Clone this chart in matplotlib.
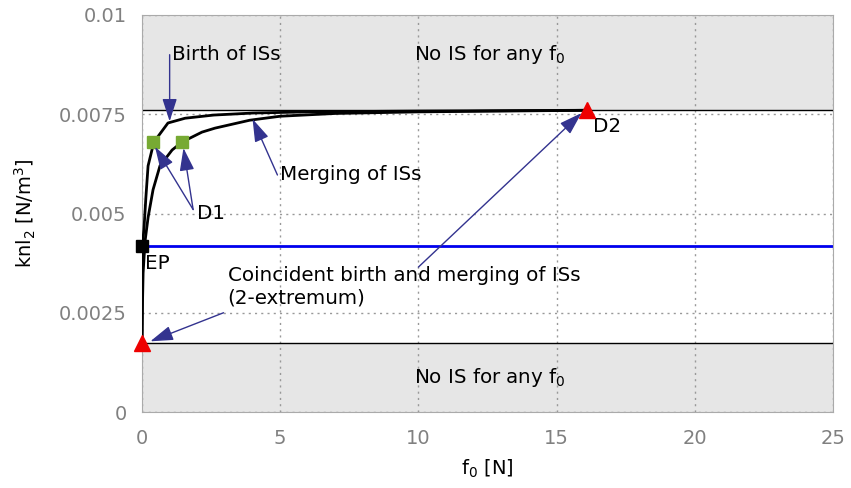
import matplotlib
matplotlib.use("Agg")
import matplotlib.pyplot as plt
from matplotlib.patches import FancyArrowPatch

# ---- data ----
left_x = [0.0, 0.005, 0.01, 0.07, 0.14, 0.22, 0.43, 0.94, 1.56, 2.6, 4.0, 6.0, 10.0, 16.1]
left_y = [0.00174, 0.0030, 0.00418, 0.0046, 0.0054, 0.0062, 0.0068, 0.00728, 0.0074, 0.00748, 0.00753, 0.00756, 0.00758, 0.0076]
right_x = [0.0, 0.02, 0.04, 0.11, 0.22, 0.4, 0.65, 1.09, 1.45, 2.17, 2.64, 3.9, 5.0, 7.0, 10.0, 16.1]
right_y = [0.00174, 0.0028, 0.0035, 0.0043, 0.0049, 0.0056, 0.0062, 0.0066, 0.0068, 0.00705, 0.00715, 0.00735, 0.00745, 0.00752, 0.00756, 0.0076]
upper_limit = 0.0076
lower_limit = 0.00174
ep_level = 0.00418
d1_x = [0.4, 1.45]
d1_y = [0.0068, 0.0068]
d2_x = [16.1]
d2_y = [0.0076]
low_x = [0.0]
low_y = [0.00174]
ep_x = [0.0]
ep_y = [0.00418]
xticks = [0, 5, 10, 15, 20, 25]
yticks = [0, 0.0025, 0.005, 0.0075, 0.01]
ytick_labels = ["0", "0.0025", "0.005", "0.0075", "0.01"]

plt.rcParams['font.family'] = ['DejaVu Sans']
fig = plt.figure(figsize=(8.51, 4.88), dpi=100)
ax = fig.add_axes([142/851, 1-412/488, (833-142)/851, (412-15)/488])
ax.set_xlim(0, 25)
ax.set_ylim(0, 0.01)

ax.axhspan(upper_limit, 0.01, color='#e6e6e6', zorder=0.5, lw=0)
ax.axhspan(0, lower_limit, color='#e6e6e6', zorder=0.5, lw=0)
ax.axhline(upper_limit, color='black', lw=1, zorder=2)
ax.axhline(lower_limit, color='black', lw=1, zorder=2)
ax.axhline(ep_level, color='#0000ee', lw=2, zorder=2)

ax.plot(left_x, left_y, color='black', lw=2, zorder=3)
ax.plot(right_x, right_y, color='black', lw=2, zorder=3)

ax.plot(d1_x, d1_y, 's', color='#77aa33', ms=9, zorder=4)
ax.plot(ep_x, ep_y, 's', color='black', ms=9, zorder=4, clip_on=False)
ax.plot(d2_x, d2_y, '^', color='#ee0000', ms=11, zorder=4, clip_on=False)
ax.plot(low_x, low_y, '^', color='#ee0000', ms=11, zorder=4, clip_on=False)

ax.set_xticks(xticks)
ax.set_yticks(yticks)
ax.set_yticklabels(ytick_labels)
ax.tick_params(colors='#808080', labelsize=14, length=0)
ax.tick_params(axis='x', pad=12)
ax.tick_params(axis='y', pad=11)
ax.grid(True, color='#999999', ls=(0, (1.5, 3)), lw=1)
for s in ax.spines.values():
    s.set_color('#aaaaaa')
    s.set_linewidth(0.8)

ax.set_xlabel('f$_0$ [N]', fontsize=14, labelpad=7)
ax.set_ylabel('knl$_2$ [N/m$^3$]', fontsize=14, labelpad=15)

ac = '#33338f'
def arrow(x0, y0, x1, y1):
    a = FancyArrowPatch((x0, y0), (x1, y1), arrowstyle='-|>,head_length=14,head_width=4.5',
                        color=ac, lw=1, mutation_scale=1.0, zorder=5, shrinkA=0, shrinkB=0)
    ax.add_patch(a)

fs = 14.3
ax.text(1.1, 0.009, 'Birth of ISs', fontsize=fs, va='center', ha='left')
arrow(1.0, 0.0090, 1.0, 0.00732)
ax.text(12.6, 0.009, 'No IS for any f$_0$', fontsize=fs, va='center', ha='center')
ax.text(12.6, 0.00086, 'No IS for any f$_0$', fontsize=fs, va='center', ha='center')
ax.text(5.0, 0.00597, 'Merging of ISs', fontsize=fs, va='center', ha='left')
arrow(4.9, 0.00597, 4.0, 0.00738)
ax.text(2.0, 0.0050, 'D1', fontsize=fs, va='center', ha='left')
arrow(1.85, 0.0051, 0.47, 0.00668)
arrow(1.85, 0.0051, 1.5, 0.00665)
ax.text(16.3, 0.0072, 'D2', fontsize=fs, va='center', ha='left')
arrow(10.0, 0.00365, 15.9, 0.00753)
ax.text(0.1, 0.00375, 'EP', fontsize=fs, va='center', ha='left')
ax.text(3.1, 0.00315, 'Coincident birth and merging of ISs\n(2-extremum)', fontsize=fs,
        va='center', ha='left', linespacing=1.2)
arrow(2.95, 0.0025, 0.3, 0.00178)

fig.savefig('out.png', dpi=100)
